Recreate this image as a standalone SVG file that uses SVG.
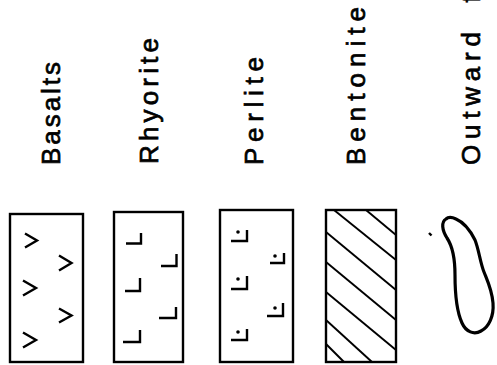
<svg xmlns="http://www.w3.org/2000/svg" width="497" height="365" viewBox="0 0 497 365">
  <style>
    .bg { fill: #ffffff; }
    .box { fill: none; stroke: #000; stroke-width: 2.4; }
    .sym { fill: none; stroke: #000; stroke-width: 2.4; stroke-linecap: butt; stroke-linejoin: miter; }
    .hatch { fill: none; stroke: #000; stroke-width: 1.9; }
    .blob { fill: none; stroke: #000; stroke-width: 3.2; }
    .dot { fill: #000; }
    .label { font-family: "Liberation Sans", Arial, sans-serif; font-size: 26px; fill: #000; stroke: #000; stroke-width: 0.7; }
  </style>
  <rect class="bg" x="0" y="0" width="497" height="365"/>

  <!-- Basalts -->
  <g id="basalts">
    <text class="label" transform="translate(60,165) rotate(-90)" textLength="103" lengthAdjust="spacing">Basalts</text>
    <rect class="box" x="10" y="214" width="73" height="148"/>
    <polyline class="sym" points="25,233.5 37,240.5 25,247.5"/>
    <polyline class="sym" points="59,255.5 71.5,263 59,270.5"/>
    <polyline class="sym" points="23,280.5 36,288 23,295.5"/>
    <polyline class="sym" points="59,308.5 71.5,315.5 59,322.5"/>
    <polyline class="sym" points="23,332.5 36,340 23,347.5"/>
  </g>

  <!-- Rhyorite -->
  <g id="rhyorite">
    <text class="label" transform="translate(158,164) rotate(-90)" textLength="126" lengthAdjust="spacing">Rhyorite</text>
    <rect class="box" x="114" y="212" width="69" height="150"/>
    <path class="sym" d="M126,243.5 H141 V233"/>
    <path class="sym" d="M161,266 H176.5 V254"/>
    <path class="sym" d="M125,291 H140 V278"/>
    <path class="sym" d="M159,318 H176 V307"/>
    <path class="sym" d="M123,342 H140 V330"/>
  </g>

  <!-- Perlite -->
  <g id="perlite">
    <text class="label" transform="translate(263,165) rotate(-90)" textLength="108" lengthAdjust="spacing">Perlite</text>
    <rect class="box" x="220" y="210" width="73" height="152"/>
    <circle class="dot" cx="238" cy="232" r="1.8"/>
    <path class="sym" d="M231,241 H247 V230"/>
    <circle class="dot" cx="275" cy="256" r="1.8"/>
    <path class="sym" d="M270,263 H284 V253"/>
    <circle class="dot" cx="238" cy="279" r="1.8"/>
    <path class="sym" d="M231,289 H247 V276"/>
    <circle class="dot" cx="275" cy="308" r="1.8"/>
    <path class="sym" d="M267,316 H283 V303"/>
    <circle class="dot" cx="238" cy="332" r="1.8"/>
    <path class="sym" d="M231,340 H247 V329"/>
  </g>

  <!-- Bentonite -->
  <g id="bentonite">
    <text class="label" transform="translate(365,165) rotate(-90)" textLength="158" lengthAdjust="spacing">Bentonite</text>
    <rect class="box" x="326" y="210" width="70" height="152"/>
    <line class="hatch" x1="366" y1="210" x2="396" y2="235"/>
    <line class="hatch" x1="334" y1="210" x2="396" y2="260"/>
    <line class="hatch" x1="326" y1="232" x2="396" y2="290"/>
    <line class="hatch" x1="326" y1="262" x2="396" y2="320"/>
    <line class="hatch" x1="326" y1="292" x2="396" y2="350"/>
    <line class="hatch" x1="326" y1="320" x2="372" y2="362"/>
    <line class="hatch" x1="326" y1="344" x2="344" y2="362"/>
  </g>

  <!-- Outward flow -->
  <g id="outward">
    <text class="label" transform="translate(480,165) rotate(-90)" textLength="133" lengthAdjust="spacing">Outward</text>
    <text class="label" transform="translate(480,2.5) rotate(-90)">f</text>
    <path class="blob" d="M446,219 C441,222 442,230 447,238 C453,247 455,258 455,275 C455,295 457,312 462,323 C466,332 474,335 481,331 C489,327 494,316 493,303 C492,290 488,282 484,272 C480,262 479,250 475,240 C470,230 463,222 456,219 C452,217 448,217 446,219 Z"/>
    <line class="sym" x1="429" y1="233" x2="431.5" y2="235.5" stroke-width="1.2"/>
  </g>
</svg>
